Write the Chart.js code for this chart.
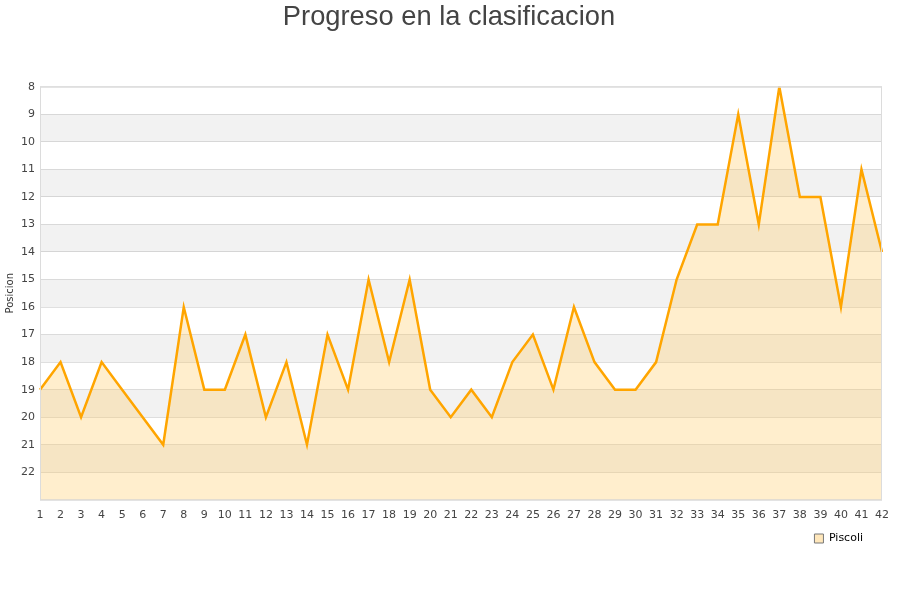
<!DOCTYPE html>
<html><head><meta charset="utf-8">
<script src="https://cdn.jsdelivr.net/npm/chart.js@4/dist/chart.umd.min.js"></script>
<style>html,body{margin:0;padding:0;background:#fff}#wrap{width:900px;height:600px}</style>
</head><body><div id="wrap"><canvas id="c"></canvas></div>
<script>
const jornadas = Array.from({length:42},(_, i)=>String(i+1));
const posiciones = [19,18,20,18,19,20,21,16,19,19,17,20,18,21,17,19,15,18,15,19,20,19,20,18,17,19,16,18,19,19,18,15,13,13,9,13,8,12,12,16,11,14];
const equipo = 'Piscoli';
const titulo = 'Progreso en la clasificacion';
const ejeY = 'Posicion';
const bandas = [[9,10],[11,12],[13,14],[15,16],[17,18],[19,20],[21,22]];

const bandPlugin = {
  id:'bands',
  afterLayout(chart){
    if (chart.legend) { chart.legend.left -= 9; chart.legend.right -= 9; }
    if (chart.titleBlock) { chart.titleBlock.left += 6; chart.titleBlock.right += 6; }
  },
  beforeDatasetsDraw(chart){
    const {ctx, chartArea:a, scales:{y}} = chart;
    ctx.save();
    ctx.fillStyle = 'rgba(0,0,0,0.05)';
    bandas.forEach(([f,t])=>{
      const p1 = y.getPixelForValue(f), p2 = y.getPixelForValue(t);
      ctx.fillRect(a.left, Math.min(p1,p2), a.right-a.left, Math.abs(p2-p1));
    });
    ctx.restore();
  },
  afterDraw(chart){
    const {ctx, chartArea:a} = chart;
    ctx.save();
    ctx.strokeStyle = '#dcdcdc';
    ctx.lineWidth = 1;
    ctx.strokeRect(a.left+0.5, a.top+0.5, a.right-a.left-1, a.bottom-a.top);
    ctx.restore();
  }
};

new Chart(document.getElementById('c'), {
  type:'line',
  data:{labels:jornadas, datasets:[{
    label:equipo, data:posiciones,
    borderColor:'#FFA500', borderWidth:2.5,
    backgroundColor:'rgba(255,200,90,0.3)',
    fill:'start', pointRadius:0, tension:0
  }]},
  options:{
    responsive:true, maintainAspectRatio:false, animation:false,
    layout:{padding:{left:4,right:18,top:0,bottom:46}},
    plugins:{
      title:{display:true, text:titulo, color:'#444', font:{family:'Liberation Sans, Arial', size:27.3, weight:'normal'}, padding:{top:1,bottom:53}},
      legend:{position:'bottom', align:'end', labels:{boxWidth:9, boxHeight:9, color:'#222', font:{family:'DejaVu Sans', size:11}, padding:10, generateLabels(chart){
        return [{text:equipo, fillStyle:'rgba(255,225,170,0.8)', strokeStyle:'#777', lineWidth:1, datasetIndex:0}];
      }}},
      tooltip:{enabled:false}
    },
    scales:{
      x:{offset:false, grid:{display:false}, border:{display:false},
        ticks:{color:'#444', font:{family:'DejaVu Sans', size:11}, maxRotation:0, autoSkip:false, padding:1}},
      y:{reverse:true, min:8, max:23,
        title:{display:true, text:ejeY, color:'#333', font:{family:'DejaVu Sans', size:10}, padding:0},
        grid:{color:'#e0e0e0', drawTicks:false},
        border:{display:false},
        ticks:{stepSize:1, color:'#444', font:{family:'DejaVu Sans', size:11}, padding:5,
          callback:v=> v===23 ? '' : v}}
    }
  },
  plugins:[bandPlugin]
});
</script></body></html>
